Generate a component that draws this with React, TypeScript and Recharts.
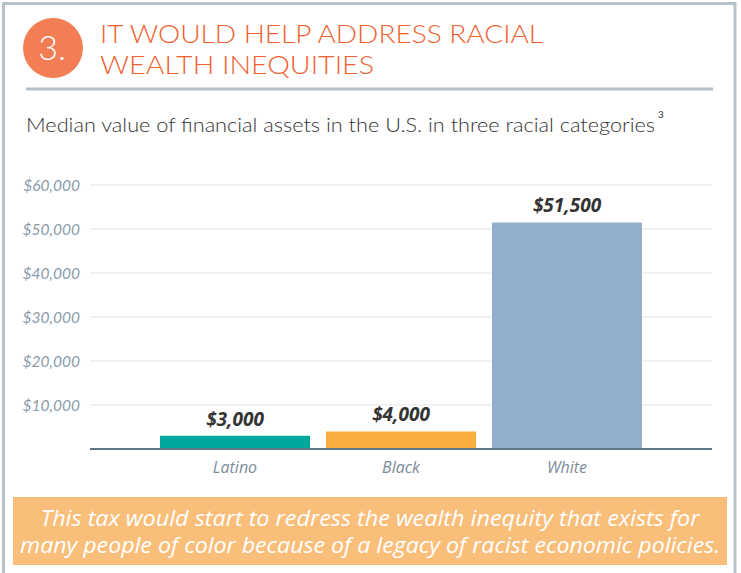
import React from 'react';
import { BarChart, Bar, XAxis, YAxis, CartesianGrid, Cell, LabelList } from 'recharts';

const categories = ['Latino', 'Black', 'White'];
const values = [3000, 4000, 51500];
const valueLabels = ['$3,000', '$4,000', '$51,500'];
const barColors = ['#00a79d', '#f9ae3f', '#93afcd'];
const yTicks = [0, 10000, 20000, 30000, 40000, 50000, 60000];

const data = categories.map((c, i) => ({ name: c, value: values[i], label: valueLabels[i] }));

const fmtY = (v: number) => (v === 0 ? '' : '$' + v.toLocaleString('en-US'));

export default function App() {
  return (
    <div style={{ position: 'absolute', left: 0, top: 0, width: 741, height: 573, background: '#fff', overflow: 'hidden' }}>
      <svg width={741} height={573} style={{ position: 'absolute', left: 0, top: 0 }}>
        <path d="M3.5 600 L3.5 3.5 L735 3.5 L735 600" fill="none" stroke="#b6c2ca" strokeWidth={3} />
        <circle cx={53} cy={48} r={30} fill="#f37e55" />
        <text x={52} y={60} textAnchor="middle" fill="#fff" fontFamily="Lato, sans-serif" fontWeight={300} fontSize={34}>3.</text>
        <text x={100} y={43} fill="#f0612f" fontFamily="Lato, sans-serif" fontWeight={300} fontSize={26} textLength={443} lengthAdjust="spacingAndGlyphs">IT WOULD HELP ADDRESS RACIAL</text>
        <text x={100} y={74} fill="#f0612f" fontFamily="Lato, sans-serif" fontWeight={300} fontSize={26} textLength={274} lengthAdjust="spacingAndGlyphs">WEALTH INEQUITIES</text>
        <line x1={26} x2={713} y1={89} y2={89} stroke="#b4c0c9" strokeWidth={3} />
        <text x={26} y={132} fill="#333" fontFamily="Lato, sans-serif" fontWeight={300} fontSize={20} textLength={629} lengthAdjust="spacingAndGlyphs">Median value of financial assets in the U.S. in three racial categories</text>
        <text x={658} y={118} fill="#333" fontFamily="Lato, sans-serif" fontSize={10}>3</text>
        <rect x={13} y={497} width={714} height={68} fill="#f9be7a" />
        <text x={370} y={526} textAnchor="middle" fill="#fff" fontFamily="'Open Sans', sans-serif" fontStyle="italic" fontSize={21} textLength={659} lengthAdjust="spacingAndGlyphs">This tax would start to redress the wealth inequity that exists for</text>
        <text x={370} y={553} textAnchor="middle" fill="#fff" fontFamily="'Open Sans', sans-serif" fontStyle="italic" fontSize={21} textLength={700} lengthAdjust="spacingAndGlyphs">many people of color because of a legacy of racist economic policies.</text>
      </svg>
      <div style={{ position: 'absolute', left: 0, top: 0 }}>
        <BarChart width={741} height={573} data={data} margin={{ top: 185, right: 29, bottom: 94, left: 10 }} barCategoryGap={8}>
          <CartesianGrid vertical={false} stroke="#eeeeee" strokeWidth={1.5} />
          <XAxis
            dataKey="name"
            height={30}
            padding={{ left: 62, right: 62 }}
            axisLine={{ stroke: '#5f7686', strokeWidth: 2 }}
            tickLine={false}
            tickMargin={7}
            tick={{ fill: '#7a8c99', fontSize: 16, fontStyle: 'italic', fontFamily: "'Open Sans', sans-serif" }}
          />
          <YAxis
            width={80}
            domain={[0, 60000]}
            ticks={yTicks}
            tickFormatter={fmtY}
            axisLine={false}
            tickLine={false}
            tickSize={0}
            tickMargin={10}
            tick={{ fill: '#8a9baa', fontSize: 15.5, fontStyle: 'italic', fontFamily: 'Lato, sans-serif', fontWeight: 400 }}
          />
          <Bar dataKey="value" isAnimationActive={false}>
            {data.map((d, i) => (
              <Cell key={d.name} fill={barColors[i]} />
            ))}
            <LabelList dataKey="label" position="top" offset={10} fill="#333" fontSize={19} fontWeight={700} fontStyle="italic" fontFamily="'Open Sans', sans-serif" />
          </Bar>
        </BarChart>
      </div>
    </div>
  );
}
